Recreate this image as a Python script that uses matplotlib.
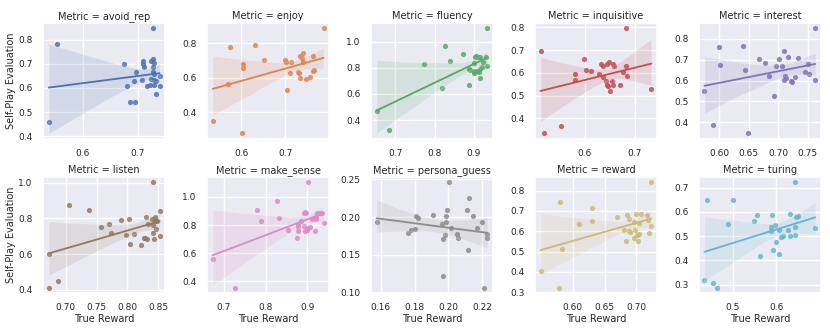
import numpy as np
import matplotlib
matplotlib.use("Agg")
import matplotlib.pyplot as plt
import seaborn as sns

metrics = ["avoid_rep", "enjoy", "fluency", "inquisitive", "interest",
           "listen", "make_sense", "persona_guess", "reward", "turing"]

avoid_rep_x = [0.538, 0.553, 0.727, 0.675, 0.680, 0.686, 0.694, 0.696, 0.693, 0.710, 0.710, 0.712, 0.708, 0.717,
               0.723, 0.724, 0.728, 0.730, 0.727, 0.728, 0.729, 0.724, 0.729, 0.733, 0.730, 0.733, 0.7396, 0.7396]
avoid_rep_y = [0.458, 0.783, 0.847, 0.699, 0.609, 0.541, 0.544, 0.668, 0.628, 0.711, 0.699, 0.686, 0.631, 0.609,
               0.611, 0.711, 0.718, 0.705, 0.686, 0.668, 0.659, 0.638, 0.635, 0.628, 0.611, 0.577, 0.608, 0.651]

enjoy_x = [0.534, 0.601, 0.569, 0.573, 0.603, 0.604, 0.630, 0.652, 0.699, 0.702, 0.713, 0.705, 0.712,
           0.730, 0.731, 0.734, 0.734, 0.738, 0.742, 0.740, 0.748, 0.756, 0.765, 0.765, 0.767, 0.788]
enjoy_y = [0.350, 0.278, 0.566, 0.775, 0.678, 0.655, 0.787, 0.701, 0.705, 0.690, 0.688, 0.528, 0.629,
           0.634, 0.625, 0.598, 0.728, 0.712, 0.745, 0.690, 0.592, 0.604, 0.724, 0.636, 0.644, 0.886]

fluency_x = [0.653, 0.685, 0.774, 0.826, 0.838, 0.819, 0.873, 0.886, 0.888, 0.891, 0.900, 0.902, 0.906,
             0.910, 0.914, 0.900, 0.900, 0.913, 0.914, 0.915, 0.921, 0.922, 0.931, 0.933, 0.934, 0.908]
fluency_y = [0.4725, 0.327, 0.8275, 0.9675, 0.850, 0.645, 0.910, 0.6725, 0.7925, 0.785, 0.835, 0.880, 0.890,
             0.880, 0.880, 0.780, 0.760, 0.765, 0.725, 0.790, 0.805, 0.845, 0.885, 0.8125, 1.105, 0.780]

inquisitive_x = [0.512, 0.519, 0.553, 0.580, 0.580, 0.599, 0.602, 0.613, 0.628, 0.633, 0.636, 0.644, 0.649, 0.636,
                 0.642, 0.644, 0.646, 0.651, 0.654, 0.657, 0.657, 0.658, 0.670, 0.676, 0.683, 0.683, 0.685, 0.733]
inquisitive_y = [0.696, 0.333, 0.367, 0.594, 0.567, 0.662, 0.613, 0.609, 0.594, 0.641, 0.632, 0.639, 0.646, 0.580,
                 0.565, 0.546, 0.543, 0.520, 0.564, 0.545, 0.641, 0.630, 0.548, 0.604, 0.797, 0.629, 0.585, 0.528]

interest_x = [0.575, 0.590, 0.600, 0.602, 0.640, 0.643, 0.649, 0.668, 0.677, 0.684, 0.693, 0.697, 0.701, 0.706,
              0.710, 0.712, 0.710, 0.714, 0.716, 0.722, 0.723, 0.728, 0.734, 0.746, 0.751, 0.753, 0.763, 0.763]
interest_y = [0.551, 0.386, 0.760, 0.675, 0.765, 0.651, 0.346, 0.702, 0.687, 0.622, 0.525, 0.671, 0.703, 0.668,
              0.740, 0.624, 0.603, 0.614, 0.714, 0.598, 0.592, 0.619, 0.711, 0.640, 0.678, 0.632, 0.852, 0.603]

listen_x = [0.6725, 0.673, 0.688, 0.706, 0.738, 0.757, 0.770, 0.774, 0.789, 0.798, 0.803, 0.804, 0.810, 0.822, 0.826,
            0.829, 0.831, 0.830, 0.833, 0.839, 0.841, 0.841, 0.842, 0.843, 0.845, 0.847, 0.846, 0.844, 0.852, 0.852]
listen_y = [0.413, 0.600, 0.452, 0.875, 0.844, 0.749, 0.771, 0.719, 0.792, 0.706, 0.799, 0.658, 0.710, 0.652, 0.688,
            0.688, 0.686, 0.805, 0.768, 0.799, 1.002, 0.762, 0.716, 0.686, 0.809, 0.786, 0.738, 0.784, 0.842, 0.704]

make_sense_x = [0.673, 0.727, 0.780, 0.788, 0.827, 0.831, 0.853, 0.875, 0.877, 0.878, 0.877, 0.884, 0.891, 0.891, 0.895,
                0.897, 0.894, 0.898, 0.901, 0.902, 0.906, 0.910, 0.917, 0.921, 0.921, 0.924, 0.929, 0.934, 0.9385]
make_sense_y = [0.556, 0.357, 0.909, 0.827, 0.967, 0.853, 0.766, 0.710, 0.755, 0.799, 0.785, 0.827, 0.790, 0.888, 0.893,
                0.883, 0.755, 0.766, 1.103, 0.776, 0.783, 0.841, 0.755, 0.841, 0.860, 0.888, 0.888, 0.883, 0.813]

persona_guess_x = [0.1575, 0.1764, 0.1777, 0.1800, 0.1807, 0.1821, 0.1907, 0.1964, 0.1966, 0.1970, 0.1982, 0.1988, 0.1989, 0.1995,
                   0.2002, 0.2014, 0.2050, 0.2057, 0.2111, 0.2116, 0.2120, 0.2148, 0.2170, 0.2202, 0.2214, 0.2229, 0.2232]
persona_guess_y = [0.194, 0.179, 0.183, 0.184, 0.201, 0.199, 0.203, 0.191, 0.171, 0.122, 0.177, 0.193, 0.202, 0.210,
                   0.246, 0.186, 0.178, 0.173, 0.210, 0.157, 0.225, 0.201, 0.185, 0.194, 0.107, 0.178, 0.173]

reward_x = [0.549, 0.578, 0.580, 0.583, 0.610, 0.631, 0.631, 0.670, 0.681, 0.685, 0.684, 0.688, 0.688, 0.691,
            0.696, 0.697, 0.698, 0.699, 0.702, 0.703, 0.704, 0.704, 0.707, 0.717, 0.718, 0.720, 0.723, 0.724]
reward_y = [0.402, 0.323, 0.743, 0.514, 0.634, 0.716, 0.652, 0.670, 0.605, 0.678, 0.553, 0.662, 0.600, 0.595,
            0.569, 0.646, 0.608, 0.686, 0.581, 0.553, 0.643, 0.586, 0.685, 0.681, 0.655, 0.592, 0.841, 0.625]

turing_x = [0.4354, 0.4417, 0.456, 0.465, 0.489, 0.500, 0.548, 0.556, 0.5625, 0.587, 0.5875, 0.591, 0.592, 0.597,
            0.599, 0.606, 0.606, 0.611, 0.614, 0.626, 0.630, 0.631, 0.642, 0.642, 0.643, 0.644, 0.649, 0.689]
turing_y = [0.318, 0.647, 0.305, 0.288, 0.550, 0.647, 0.561, 0.586, 0.416, 0.539, 0.522, 0.586, 0.443, 0.546,
            0.476, 0.524, 0.425, 0.495, 0.500, 0.527, 0.499, 0.593, 0.505, 0.538, 0.722, 0.579, 0.584, 0.535]

series = [
    (avoid_rep_x, avoid_rep_y), (enjoy_x, enjoy_y), (fluency_x, fluency_y),
    (inquisitive_x, inquisitive_y), (interest_x, interest_y), (listen_x, listen_y),
    (make_sense_x, make_sense_y), (persona_guess_x, persona_guess_y),
    (reward_x, reward_y), (turing_x, turing_y),
]

yticks = [
    [0.4, 0.5, 0.6, 0.7, 0.8], [0.4, 0.6, 0.8], [0.4, 0.6, 0.8, 1.0],
    [0.4, 0.5, 0.6, 0.7, 0.8], [0.4, 0.5, 0.6, 0.7, 0.8], [0.4, 0.6, 0.8, 1.0],
    [0.4, 0.6, 0.8, 1.0], [0.10, 0.15, 0.20, 0.25], [0.3, 0.4, 0.5, 0.6, 0.7, 0.8],
    [0.3, 0.4, 0.5, 0.6, 0.7],
]
xticks = [
    [0.6, 0.7], [0.6, 0.7], [0.7, 0.8, 0.9], [0.6, 0.7], [0.60, 0.65, 0.70, 0.75],
    [0.70, 0.75, 0.80, 0.85], [0.7, 0.8, 0.9], [0.16, 0.18, 0.20, 0.22],
    [0.60, 0.65, 0.70], [0.5, 0.6],
]
xfmt = ["%.1f", "%.1f", "%.1f", "%.1f", "%.2f", "%.2f", "%.1f", "%.2f", "%.2f", "%.1f"]
yfmt = ["%.1f", "%.1f", "%.1f", "%.1f", "%.1f", "%.1f", "%.1f", "%.2f", "%.1f", "%.1f"]

sns.set_theme(style="darkgrid")
plt.rcParams['font.family'] = ['DejaVu Sans']
colors = sns.color_palette("deep", 10)

fig, axes = plt.subplots(2, 5, figsize=(8.3, 3.32), dpi=100)
fig.subplots_adjust(left=0.052, right=0.989, top=0.931, bottom=0.118, wspace=0.344, hspace=0.33)

from matplotlib.ticker import FormatStrFormatter

for i, ax in enumerate(axes.flat):
    xs, ys = series[i]
    sns.regplot(x=np.array(xs), y=np.array(ys), ax=ax, color=colors[i], seed=0, truncate=True,
                scatter_kws=dict(s=14, alpha=0.85, linewidths=0),
                line_kws=dict(lw=1.3))
    ax.set_title(f"Metric = {metrics[i]}", fontsize=7, pad=3)
    ax.set_yticks(yticks[i])
    ax.set_xticks(xticks[i])
    ax.xaxis.set_major_formatter(FormatStrFormatter(xfmt[i]))
    ax.yaxis.set_major_formatter(FormatStrFormatter(yfmt[i]))
    ax.tick_params(labelsize=6.5, pad=1.5)
    ax.set_xlabel("True Reward" if i >= 5 else "", fontsize=7, labelpad=1)
    ax.set_ylabel("Self-Play Evaluation" if i % 5 == 0 else "", fontsize=7, labelpad=2)

fig.savefig("out.png", dpi=100)
